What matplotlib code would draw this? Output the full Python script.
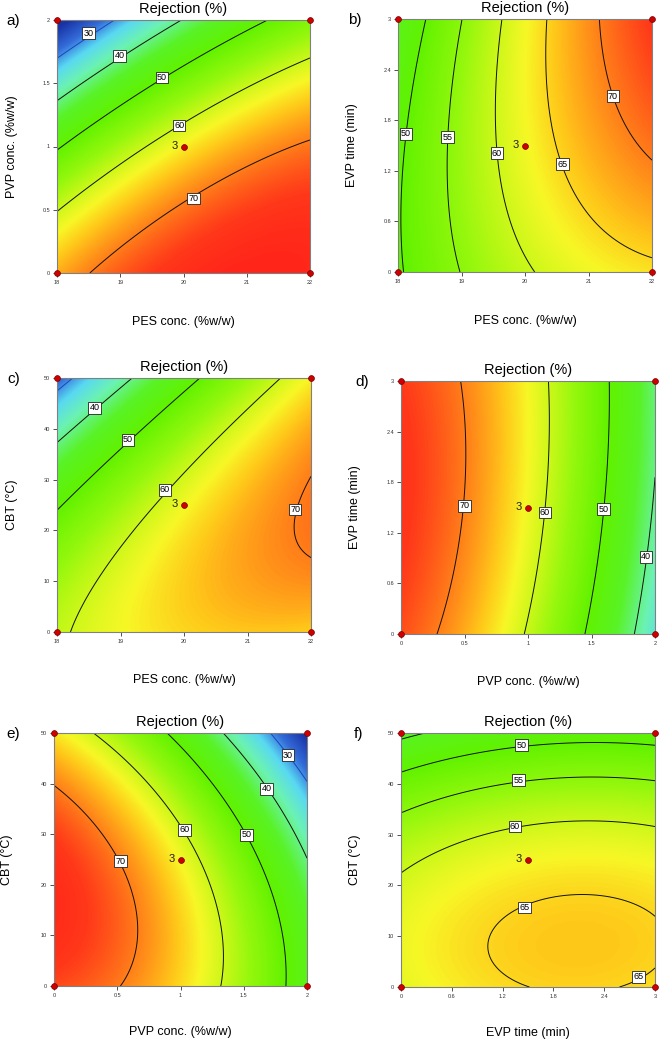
import numpy as np
import matplotlib
matplotlib.use('Agg')
import matplotlib.pyplot as plt
from matplotlib.colors import LinearSegmentedColormap, Normalize

plt.rcParams['font.family'] = ['Liberation Sans', 'DejaVu Sans']

W, H = 659, 1044

# ---------------- data ----------------
# contour crossings: (level, x, y) in axis units
a_pts = [(70, 18.5, 0.0), (70, 20.16, 0.59), (70, 22.0, 1.05),
         (60, 18.0, 0.495), (60, 19.93, 1.166), (60, 22.0, 1.71),
         (50, 18.0, 0.96), (50, 19.66, 1.545), (50, 21.34, 2.0),
         (40, 18.0, 1.355), (40, 18.99, 1.716), (40, 20.03, 2.0),
         (30, 18.0, 1.684), (30, 18.5, 1.895), (30, 18.95, 2.0)]
b_pts = [(50, 18.095, 0.0), (50, 18.07, 1.2), (50, 18.126, 1.64), (50, 18.44, 3.0),
         (55, 18.99, 0.0), (55, 18.77, 0.85), (55, 18.78, 1.60), (55, 19.02, 3.0),
         (60, 20.14, 0.0), (60, 19.79, 0.653), (60, 19.56, 1.41), (60, 19.51, 2.04), (60, 19.63, 3.0),
         (65, 20.33, 3.0), (65, 20.42, 2.236), (65, 20.59, 1.28), (65, 20.82, 0.77),
         (65, 21.40, 0.376), (65, 22.0, 0.186),
         (70, 21.15, 3.0), (70, 21.385, 2.086), (70, 21.66, 1.64), (70, 22.0, 1.334)]
c_pts = [(30, 18.0, 48.7), (30, 18.33, 50.0),
         (40, 18.0, 36.5), (40, 18.59, 44.1), (40, 19.24, 50.0),
         (50, 18.0, 23.5), (50, 19.12, 37.8), (50, 20.26, 50.0),
         (60, 18.19, 0.0), (60, 18.83, 14.1), (60, 19.7, 27.96), (60, 21.505, 50.0),
         (70, 22.0, 31.25), (70, 21.8, 26.0), (70, 21.75, 22.0), (70, 21.83, 18.1), (70, 22.0, 15.5)]
d_pts = [(70, 0.286, 0.0), (70, 0.499, 1.52), (70, 0.504, 2.30), (70, 0.465, 3.0),
         (60, 0.963, 0.0), (60, 1.134, 1.44), (60, 1.173, 2.30), (60, 1.16, 3.0),
         (50, 1.449, 0.0), (50, 1.593, 1.48), (50, 1.640, 3.0),
         (40, 1.843, 0.0), (40, 1.929, 0.916), (40, 2.0, 1.82)]
e_pts = [(70, 0.0, 39.0), (70, 0.523, 24.7), (70, 0.654, 9.7), (70, 0.544, 0.0),
         (60, 0.339, 50.0), (60, 1.03, 30.9), (60, 1.259, 15.7), (60, 1.325, 0.0),
         (50, 0.891, 50.0), (50, 1.522, 29.9), (50, 1.758, 15.7), (50, 1.829, 0.0),
         (40, 1.325, 50.0), (40, 1.680, 39.0), (40, 1.942, 30.8), (40, 2.0, 24.2),
         (30, 1.719, 50.0), (30, 1.850, 45.6), (30, 2.0, 39.7)]
f_pts = [(45, 0.0, 48.55), (45, 0.303, 50.0),
         (50, 0.0, 42.3), (50, 1.425, 47.6), (50, 3.0, 47.6),
         (55, 0.0, 34.2), (55, 1.386, 40.7), (55, 3.0, 40.5),
         (60, 0.0, 23.1), (60, 1.346, 31.6), (60, 2.31, 32.1), (60, 3.0, 31.6),
         (65, 1.059, 7.76), (65, 1.457, 15.66), (65, 2.311, 17.2), (65, 3.0, 14.8),
         (65, 1.622, 0.0), (65, 2.587, 0.0), (65, 3.0, 2.5)]

# contour levels drawn
a_levels = [30, 40, 50, 60, 70]
b_levels = [50, 55, 60, 65, 70]
c_levels = [30, 40, 50, 60, 70]
d_levels = [40, 50, 60, 70]
e_levels = [30, 40, 50, 60, 70]
f_levels = [45, 50, 55, 60, 65]

# contour label positions (level, x, y)
a_lab = [(30, 18.5, 1.895), (40, 18.99, 1.716), (50, 19.66, 1.545), (60, 19.93, 1.166), (70, 20.16, 0.59)]
b_lab = [(50, 18.126, 1.64), (55, 18.78, 1.60), (60, 19.56, 1.41), (65, 20.59, 1.28), (70, 21.385, 2.086)]
c_lab = [(40, 18.59, 44.1), (50, 19.12, 37.8), (60, 19.7, 27.96), (70, 21.75, 24.1)]
d_lab = [(70, 0.499, 1.52), (60, 1.134, 1.44), (50, 1.593, 1.48), (40, 1.929, 0.916)]
e_lab = [(70, 0.523, 24.7), (60, 1.03, 30.9), (50, 1.522, 29.9), (40, 1.680, 39.0), (30, 1.850, 45.6)]
f_lab = [(50, 1.425, 47.6), (55, 1.386, 40.7), (60, 1.346, 31.6), (65, 1.457, 15.66), (65, 2.803, 1.97)]

# axis ranges and ticks
pes_range, pvp_range, evp_range, cbt_range = (18, 22), (0, 2), (0, 3), (0, 50)
pes_ticks = [18, 19, 20, 21, 22]
pes_ticklabels = ['18', '19', '20', '21', '22']
pvp_ticks = [0, 0.5, 1, 1.5, 2]
pvp_ticklabels = ['0', '0.5', '1', '1.5', '2']
evp_ticks = [0, 0.6, 1.2, 1.8, 2.4, 3]
evp_ticklabels = ['0', '0.6', '1.2', '1.8', '2.4', '3']
cbt_ticks = [0, 10, 20, 30, 40, 50]
cbt_ticklabels = ['0', '10', '20', '30', '40', '50']

pes_label = 'PES conc. (%w/w)'
pvp_label = 'PVP conc. (%w/w)'
evp_label = 'EVP time (min)'
cbt_label = 'CBT (°C)'
title_text = 'Rejection (%)'
center_count = '3'

# colour scale (Design-Expert style)
cmap_values = [22, 28, 33, 38, 44, 50, 56, 60, 63, 66, 70, 74, 78]
cmap_colors = [(0.10, 0.20, 0.65), (0.20, 0.42, 0.85), (0.35, 0.85, 0.95),
               (0.42, 0.95, 0.70), (0.35, 0.95, 0.15), (0.38, 0.95, 0.00),
               (0.58, 0.97, 0.05), (0.80, 0.97, 0.10), (0.97, 0.97, 0.15),
               (1.00, 0.78, 0.10), (1.00, 0.50, 0.10), (1.00, 0.22, 0.10),
               (1.00, 0.10, 0.10)]

# ---------------- layout (pixel boxes: left, top, right, bottom) ----------------
panels = [
    dict(letter='a)', pts=a_pts, levels=a_levels, lab=a_lab, xr=pes_range, yr=pvp_range,
         xt=(pes_ticks, pes_ticklabels), yt=(pvp_ticks, pvp_ticklabels), xl=pes_label, yl=pvp_label,
         box=(57, 20, 310, 273), letter_xy=(13, 21), ylab_x=12, xlab_y=322),
    dict(letter='b)', pts=b_pts, levels=b_levels, lab=b_lab, xr=pes_range, yr=evp_range,
         xt=(pes_ticks, pes_ticklabels), yt=(evp_ticks, evp_ticklabels), xl=pes_label, yl=evp_label,
         box=(398, 19, 652, 272), letter_xy=(355, 20), ylab_x=352, xlab_y=321),
    dict(letter='c)', pts=c_pts, levels=c_levels, lab=c_lab, xr=pes_range, yr=cbt_range,
         xt=(pes_ticks, pes_ticklabels), yt=(cbt_ticks, cbt_ticklabels), xl=pes_label, yl=cbt_label,
         box=(57, 378, 311, 632), letter_xy=(14, 379), ylab_x=12, xlab_y=680),
    dict(letter='d)', pts=d_pts, levels=d_levels, lab=d_lab, xr=pvp_range, yr=evp_range,
         xt=(pvp_ticks, pvp_ticklabels), yt=(evp_ticks, evp_ticklabels), xl=pvp_label, yl=evp_label,
         box=(401, 381, 655, 634), letter_xy=(362, 382), ylab_x=355, xlab_y=682),
    dict(letter='e)', pts=e_pts, levels=e_levels, lab=e_lab, xr=pvp_range, yr=cbt_range,
         xt=(pvp_ticks, pvp_ticklabels), yt=(cbt_ticks, cbt_ticklabels), xl=pvp_label, yl=cbt_label,
         box=(54, 733, 307, 986), letter_xy=(13, 734), ylab_x=7, xlab_y=1032),
    dict(letter='f)', pts=f_pts, levels=f_levels, lab=f_lab, xr=evp_range, yr=cbt_range,
         xt=(evp_ticks, evp_ticklabels), yt=(cbt_ticks, cbt_ticklabels), xl=evp_label, yl=cbt_label,
         box=(401, 733, 655, 987), letter_xy=(359, 734), ylab_x=355, xlab_y=1033),
]

vmin, vmax = cmap_values[0], cmap_values[-1]
cmap = LinearSegmentedColormap.from_list(
    'de', [((v - vmin) / (vmax - vmin), c) for v, c in zip(cmap_values, cmap_colors)])
norm = Normalize(vmin, vmax)


def coded(v, r):
    return (2 * np.asarray(v, float) - (r[0] + r[1])) / (r[1] - r[0])


def design(u, v):
    return np.stack([np.ones_like(u), u, v, u * u, v * v, u * v], axis=-1)


fig = plt.figure(figsize=(W / 100, H / 100), dpi=100)

for p in panels:
    l, t, r, b = p['box']
    ax = fig.add_axes([l / W, 1 - b / H, (r - l) / W, (b - t) / H])
    pts = np.array(p['pts'], float)
    u = coded(pts[:, 1], p['xr'])
    v = coded(pts[:, 2], p['yr'])
    coef, *_ = np.linalg.lstsq(design(u, v), pts[:, 0], rcond=None)

    xs = np.linspace(p['xr'][0], p['xr'][1], 400)
    ys = np.linspace(p['yr'][0], p['yr'][1], 400)
    X, Y = np.meshgrid(xs, ys)
    Z = design(coded(X, p['xr']), coded(Y, p['yr'])) @ coef

    ax.imshow(Z, extent=[xs[0], xs[-1], ys[0], ys[-1]], origin='lower', aspect='auto',
              cmap=cmap, norm=norm, interpolation='bilinear')
    line_colors = ['#2040c0' if lv <= 30 else '#111111' for lv in p['levels']]
    ax.contour(X, Y, Z, levels=p['levels'], colors=line_colors, linewidths=0.7)

    for lv, lx, ly in p['lab']:
        ax.text(lx, ly, str(lv), fontsize=6.5, ha='center', va='center', zorder=6,
                bbox=dict(boxstyle='square,pad=0.15', facecolor='white', edgecolor='#222222', linewidth=0.6))

    # design points
    cx = [p['xr'][0], p['xr'][1], p['xr'][0], p['xr'][1]]
    cy = [p['yr'][0], p['yr'][0], p['yr'][1], p['yr'][1]]
    ax.plot(cx, cy, 'o', color='#d00000', mec='#700000', mew=0.5, ms=4.2, clip_on=False, zorder=7)
    mx, my = np.mean(p['xr']), np.mean(p['yr'])
    ax.plot([mx], [my], 'o', color='#d00000', mec='#700000', mew=0.5, ms=4.2, zorder=7)
    ax.annotate(center_count, (mx, my), xytext=(-6.5, 0.5), textcoords='offset points',
                fontsize=8, ha='center', va='center', color='#222222', zorder=7)

    ax.set_xlim(*p['xr'])
    ax.set_ylim(*p['yr'])
    ax.set_xticks(p['xt'][0])
    ax.set_xticklabels(p['xt'][1])
    ax.set_yticks(p['yt'][0])
    ax.set_yticklabels(p['yt'][1])
    ax.tick_params(direction='out', length=3, width=0.6, labelsize=4, colors='#333333', pad=2)
    for s in ax.spines.values():
        s.set_color('#808080')
        s.set_linewidth(0.8)

    fig.text((l + r) / 2 / W, 1 - (t - 11) / H, title_text, fontsize=10.5, ha='center', va='center')
    fig.text(p['letter_xy'][0] / W, 1 - p['letter_xy'][1] / H, p['letter'], fontsize=11,
             ha='center', va='center')
    fig.text(p['ylab_x'] / W, 1 - (t + b) / 2 / H, p['yl'], fontsize=9, rotation=90,
             ha='center', va='center')
    fig.text((l + r) / 2 / W, 1 - p['xlab_y'] / H, p['xl'], fontsize=9, ha='center', va='center')

fig.savefig('out.png', dpi=100)
